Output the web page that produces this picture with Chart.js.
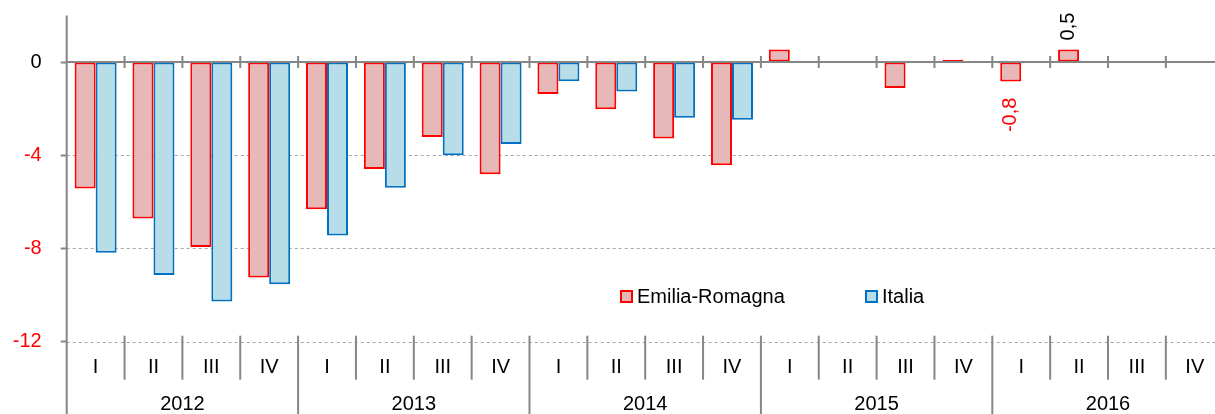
<!DOCTYPE html>
<html><head><meta charset="utf-8">
<script src="https://cdn.jsdelivr.net/npm/chart.js@4.4.1/dist/chart.umd.min.js"></script>
<style>
html,body{margin:0;padding:0;background:#fff;overflow:hidden;width:1215px;height:414px;}
#wrap{position:absolute;left:0;top:0;width:1228px;height:414px;}
canvas{display:block;}
</style></head><body>
<div id="wrap"><canvas id="c" width="1228" height="414"></canvas></div>
<script>
const years = ['2012','2013','2014','2015','2016'];
const quarters = ['I','II','III','IV'];
const categories = ['2012 I','2012 II','2012 III','2012 IV','2013 I','2013 II','2013 III','2013 IV',
  '2014 I','2014 II','2014 III','2014 IV','2015 I','2015 II','2015 III','2015 IV',
  '2016 I','2016 II','2016 III','2016 IV'];
const emiliaRomagna = [-5.43,-6.71,-7.94,-9.25, -6.32,-4.59,-3.22,-4.82, -1.37,-2.03,-3.28,-4.43, 0.54,0.03,-1.11,0.1, -0.84,0.54,null,null];
const italia = [-8.18,-9.14,-10.28,-9.54, -7.44,-5.39,-4.0,-3.52, -0.83,-1.26,-2.39,-2.48, null,null,null,null, null,null,null,null];
const yTicks = [0,-4,-8,-12];
const labeledIndexes = [16,17];

const FONT = '"Liberation Sans", Arial, sans-serif';
const GRAY = '#868686';

const custom = {
  id:'custom',
  beforeDatasetsDraw(chart){
    const ctx = chart.ctx, ca = chart.chartArea, y = chart.scales.y;
    ctx.save();
    ctx.strokeStyle = '#a6a6a6'; ctx.lineWidth = 1; ctx.setLineDash([3,3]);
    yTicks.forEach(v=>{
      if (v===0) return;
      const py = Math.round(y.getPixelForValue(v))+0.5;
      ctx.beginPath(); ctx.moveTo(ca.left, py); ctx.lineTo(ca.right, py); ctx.stroke();
    });
    ctx.restore();
  },
  afterDatasetsDraw(chart){
    const ctx = chart.ctx, ca = chart.chartArea, x = chart.scales.x, y = chart.scales.y;
    const H = chart.height;
    const cw = x.getPixelForValue(1) - x.getPixelForValue(0);
    const y0 = y.getPixelForValue(0);
    const yb = y.getPixelForValue(-12);
    ctx.save();
    ctx.strokeStyle = GRAY; ctx.lineWidth = 2;
    ctx.beginPath(); ctx.moveTo(ca.left, ca.top); ctx.lineTo(ca.left, H); ctx.stroke();
    ctx.beginPath(); ctx.moveTo(ca.left, y0); ctx.lineTo(ca.right, y0); ctx.stroke();
    for (let i=1;i<=categories.length;i++){
      const bx = x.getPixelForValue(i) - cw/2;
      ctx.beginPath(); ctx.moveTo(bx, y0-6); ctx.lineTo(bx, y0+6); ctx.stroke();
    }
    for (let i=1;i<=categories.length;i++){
      const bx = x.getPixelForValue(i) - cw/2;
      const isYear = (i % quarters.length) === 0;
      ctx.beginPath(); ctx.moveTo(bx, yb-6); ctx.lineTo(bx, isYear ? H : yb+38); ctx.stroke();
    }
    ctx.fillStyle = '#000'; ctx.font = '20px ' + FONT; ctx.textAlign='center'; ctx.textBaseline='middle';
    categories.forEach((c,i)=>{
      const q = quarters[i % quarters.length];
      ctx.fillText(q, x.getPixelForValue(i), yb+26);
    });
    years.forEach((yr,k)=>{
      const a = x.getPixelForValue(k*4), b = x.getPixelForValue(k*4+3);
      ctx.fillText(yr, (a+b)/2, yb+63);
    });
    const meta = chart.getDatasetMeta(0);
    labeledIndexes.forEach(i=>{
      const v = emiliaRomagna[i];
      const el = meta.data[i];
      const txt = v.toFixed(1).replace('.',',');
      ctx.save();
      ctx.translate(el.x, v>=0 ? el.y-9 : el.y+16);
      ctx.rotate(-Math.PI/2);
      ctx.textBaseline='middle';
      ctx.fillStyle = v>=0 ? '#000000' : '#FF0000';
      ctx.textAlign = v>=0 ? 'left' : 'right';
      ctx.fillText(txt, 0, 0);
      ctx.restore();
    });
    const items = chart.data.datasets.map((d,k)=>({label:d.label, fill:d.backgroundColor, stroke:d.borderColor, bx:[621,866][k]}));
    items.forEach(it=>{
      ctx.fillStyle = it.fill; ctx.fillRect(it.bx, 291, 11, 11);
      ctx.strokeStyle = it.stroke; ctx.lineWidth = 2; ctx.strokeRect(it.bx, 291, 11, 11);
      ctx.fillStyle = '#000'; ctx.textAlign='left'; ctx.textBaseline='middle';
      ctx.fillText(it.label, it.bx+16, 297);
    });
    ctx.restore();
  }
};

new Chart(document.getElementById('c'), {
  type:'bar',
  data:{labels:categories, datasets:[
    {label:'Emilia-Romagna', data:emiliaRomagna, backgroundColor:'#E6B9B8', borderColor:'#FF0000', borderWidth:2, borderSkipped:false},
    {label:'Italia', data:italia, backgroundColor:'#B7DEE8', borderColor:'#0070C0', borderWidth:2, borderSkipped:false}
  ]},
  options:{
    responsive:false, animation:false, devicePixelRatio:1,
    layout:{padding:{top:15.4,bottom:72.3,left:0,right:4.3}},
    datasets:{bar:{categoryPercentage:0.726, barPercentage:1}},
    plugins:{legend:{display:false}, tooltip:{enabled:false}},
    scales:{
      x:{display:false, offset:true},
      y:{min:-12, max:2,
        afterBuildTicks:s=>{ s.ticks = yTicks.map(v=>({value:v})); },
        afterFit:s=>{ s.width = 66.7; s.paddingTop = 0; s.paddingBottom = 0; },
        ticks:{font:{family:FONT, size:20}, color:c=>c.tick.value<0?'#FF0000':'#000000', padding:19},
        grid:{drawOnChartArea:false, drawTicks:true, tickLength:6, tickColor:GRAY, tickWidth:2},
        border:{display:false}
      }
    }
  },
  plugins:[custom]
});
</script>
</body></html>
